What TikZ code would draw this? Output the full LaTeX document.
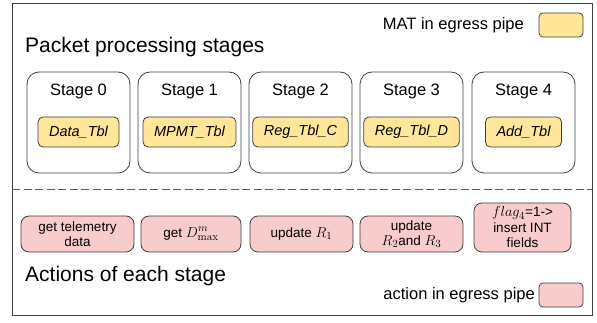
\documentclass[tikz,border=0pt]{standalone}
\usepackage[no-math]{fontspec}
\setmainfont{Liberation Sans}
\definecolor{matyellow}{HTML}{FFE699}
\definecolor{actpink}{HTML}{F8CBCD}
\definecolor{edgegray}{HTML}{404040}
\newcommand{\bigmath}[1]{{\fontsize{15.5}{15.5}\selectfont$#1$}}
\begin{document}
\begin{tikzpicture}
[x=1pt,y=-1pt,
  framedecorate/.style={draw=edgegray,line width=1pt,minimum width=580pt,minimum height=311pt,inner sep=0pt},%
  stagedecorate/.style={draw=edgegray,line width=0.8pt,rounded corners=12pt,minimum width=103pt,minimum height=101pt,inner sep=0pt},%
  tabledecorate/.style={draw=edgegray,line width=0.8pt,fill=matyellow,rounded corners=5pt,inner xsep=11pt,inner ysep=0pt,minimum height=30pt,font=\fontsize{14.5}{16}\selectfont\itshape},%
  actiondecorate/.style={draw=edgegray,line width=0.8pt,fill=actpink,rounded corners=8pt,inner sep=1pt,align=center,font=\fontsize{13.5}{15.5}\selectfont},%
  keydecorate/.style={draw=edgegray,line width=0.8pt,rounded corners=4pt,minimum width=44pt,minimum height=24pt,inner sep=0pt},%
  bigtext/.style={inner sep=0pt,anchor=west,font=\fontsize{21}{24}\selectfont},%
  smalltext/.style={inner sep=0pt,font=\fontsize{16.5}{19}\selectfont}]
\useasboundingbox (0,0) rectangle (597,323);
%% frame and titles
\node (frame) at (302,159.5) [framedecorate] {};
\node (ptitle) at (25,47) [bigtext] {Packet processing stages};
\node (atitle) at (25,276) [bigtext] {Actions of each stage};
%% legend
\node (matkey) at (561,25) [keydecorate,fill=matyellow] {};
\node (mattext) at (524,25) [smalltext,anchor=east] {MAT in egress pipe};
\node (actkey) at (561,295) [keydecorate,fill=actpink] {};
\node (acttext) at (535,295) [smalltext,anchor=east] {action in egress pipe};
%% stages and their tables
\foreach \i/\x/\tbl in {0/78.5/Data\_Tbl, 1/189.5/MPMT\_Tbl, 2/300.5/Reg\_Tbl\_C,
  3/411.5/Reg\_Tbl\_D, 4/523.5/Add\_Tbl} {
  \node (s\i) at (\x,122.5) [stagedecorate] {};
  \node (l\i) at (\x,91) [smalltext] {Stage \i};
  \node (t\i) at (\x,132) [tabledecorate] {\tbl};
}
%% separator
\coordinate (dl) at (12,189);
\coordinate (dr) at (592,189);
\draw[edgegray!85,line width=0.8pt,dash pattern=on 8pt off 3.5pt] (dl) -- (dr);
%% actions
\foreach \i/\x/\y/\w/\h/\txt in {0/77.5/234/113/36/get telemetry\\data,
  1/191/234/100/36/get \bigmath{D^m_{\max}}, 2/301.5/234/103/36/update \bigmath{R_1},
  3/411.5/234/103/36/update\\\bigmath{R_2}and \bigmath{R_3},
  4/522.5/227.5/97/49/\bigmath{flag_4}=1->\\insert INT\\fields} {
  \node (a\i) at (\x,\y) [actiondecorate,minimum width=\w pt,minimum height=\h pt] {\txt};
}
\end{tikzpicture}
\end{document}
